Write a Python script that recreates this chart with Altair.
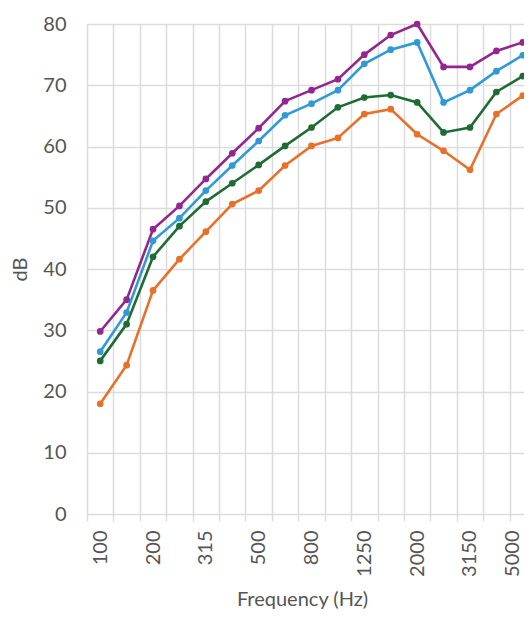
import altair as alt
import pandas as pd

freqs = ["100", "160", "200", "250", "315", "400", "500", "630", "800",
         "1000", "1250", "1600", "2000", "2500", "3150", "4000", "5000"]
shown = ["100", "200", "315", "500", "800", "1250", "2000", "3150", "5000"]

purple = [29.8, 35.0, 46.5, 50.3, 54.7, 58.9, 63.0, 67.4, 69.2, 71.0, 75.0, 78.2, 80.0, 73.0, 73.0, 75.6, 77.0]
blue = [26.5, 32.9, 44.6, 48.3, 52.8, 56.9, 60.9, 65.1, 67.0, 69.2, 73.5, 75.8, 77.0, 67.2, 69.2, 72.3, 74.9]
green = [25.0, 31.0, 42.0, 47.0, 51.0, 54.0, 57.0, 60.1, 63.1, 66.4, 68.0, 68.4, 67.2, 62.3, 63.1, 68.9, 71.5]
orange = [18.0, 24.3, 36.5, 41.6, 46.1, 50.6, 52.8, 56.9, 60.1, 61.4, 65.3, 66.1, 62.0, 59.3, 56.2, 65.3, 68.3]

series = {"D": orange, "C": green, "B": blue, "A": purple}
colors = {"A": "#93278f", "B": "#2e9bd6", "C": "#1e6b34", "D": "#e8702a"}

rows = []
for name, vals in series.items():
    for f, v in zip(freqs, vals):
        rows.append({"Frequency": f, "dB": v, "series": name})
df = pd.DataFrame(rows)

label_expr = "indexof(" + str(shown) + ", datum.label) >= 0 ? datum.label : ''"

FONT = "Lato"
GRAY = "#555555"

x = alt.X("Frequency:N", sort=freqs,
          scale=alt.Scale(paddingInner=0, paddingOuter=0, range=[0, 449]),
          axis=alt.Axis(title="Frequency (Hz)", labelAngle=-90, labelAlign="right",
                        labelBaseline={"condition": {"test": "datum.label == '5000'", "value": "bottom"},
                                       "value": "middle"},
                        labelExpr=label_expr,
                        grid=True, tickBand="extent", gridColor="#dcdcdc", gridWidth=1.5,
                        tickColor="#dcdcdc", tickWidth=1.5, tickSize=7, domain=False,
                        labelPadding=9, labelFontSize=20, labelColor=GRAY, labelFont=FONT,
                        titleFontSize=20, titleColor=GRAY, titleFont=FONT,
                        titleFontWeight="normal", titlePadding=13, titleX=215))
y = alt.Y("dB:Q", scale=alt.Scale(domain=[0, 80], nice=False),
          axis=alt.Axis(title="dB", values=[0, 10, 20, 30, 40, 50, 60, 70, 80],
                        ticks=False, domain=False, gridColor="#dcdcdc", gridWidth=1.5,
                        labelPadding=21, labelFontSize=20, labelColor=GRAY, labelFont=FONT,
                        titleFontSize=20, titleColor=GRAY, titleFont=FONT,
                        titleFontWeight="normal", titlePadding=12))
color = alt.Color("series:N", sort=list(series.keys()),
                  scale=alt.Scale(domain=list(colors.keys()), range=list(colors.values())),
                  legend=None)

chart = alt.Chart(df).mark_line(
    point=alt.OverlayMarkDef(size=45, filled=True, opacity=1), strokeWidth=2.6
).encode(x=x, y=y, color=color, detail="series:N").properties(
    width=437, height=490,
    autosize=alt.AutoSizeParams(type="none"),
    padding={"left": 79, "top": 16, "right": 0, "bottom": 98},
).configure_view(stroke=None).configure(background="white")

chart.save("out.html", embed_options={"renderer": "svg", "actions": False})
